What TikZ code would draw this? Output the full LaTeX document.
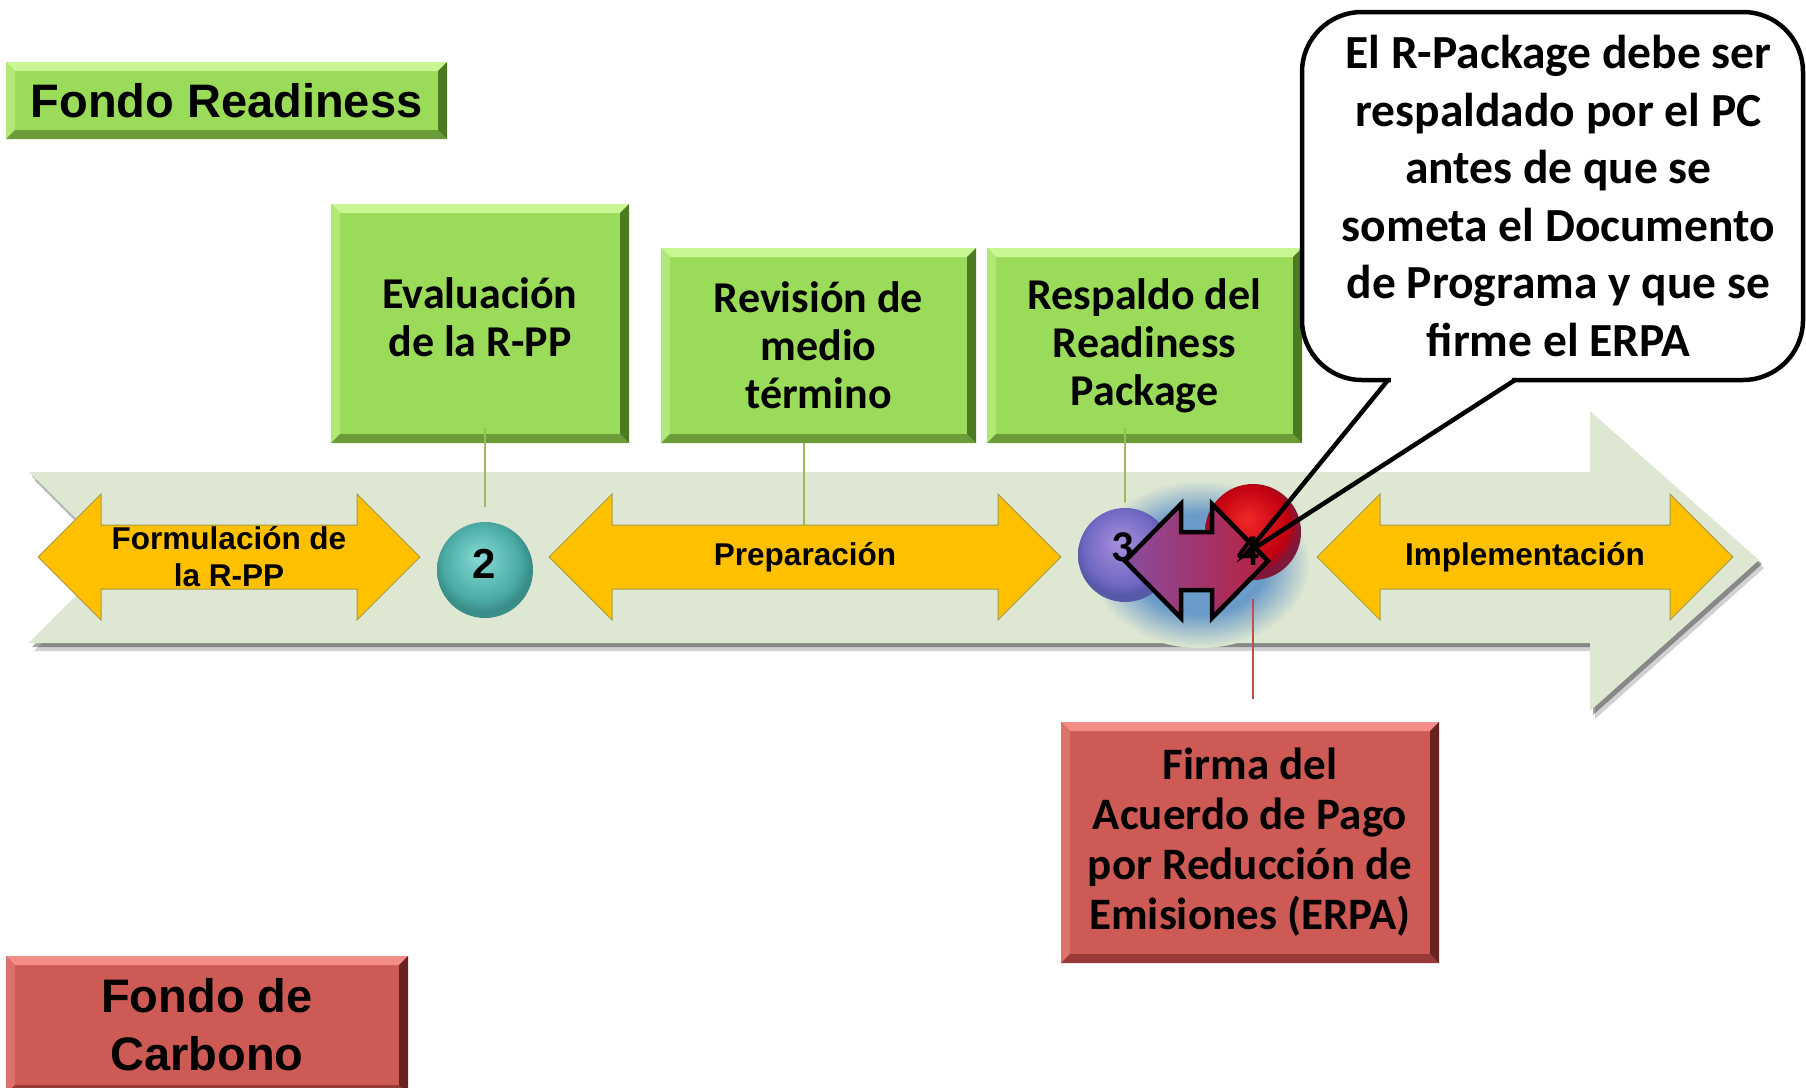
\documentclass[tikz,border=0pt]{standalone}
\usepackage{fontspec}
\usetikzlibrary{calc}
\newfontfamily\arialf{Liberation Sans}
\newfontfamily\calf{Carlito}
\definecolor{gfill}{HTML}{9BDB5A}
\definecolor{gtop}{HTML}{C9F592}
\definecolor{gleft}{HTML}{B2E878}
\definecolor{gbot}{HTML}{6C9C3A}
\definecolor{gright}{HTML}{4C7A22}
\definecolor{rfill}{HTML}{CD5A55}
\definecolor{rtop}{HTML}{F48C88}
\definecolor{rleft}{HTML}{DD716C}
\definecolor{rbot}{HTML}{9A3A36}
\definecolor{rright}{HTML}{6A2220}
\definecolor{tlc}{HTML}{DEE7D2}
\definecolor{yel}{HTML}{FFC000}
\definecolor{yedge}{HTML}{A89A48}
\definecolor{glowc}{HTML}{6B9BC8}
\definecolor{tealA}{HTML}{86DCD5}
\definecolor{tealB}{HTML}{4AAAA4}
\definecolor{tealC}{HTML}{3A8E89}
\definecolor{purA}{HTML}{A88EDC}
\definecolor{purB}{HTML}{7068C2}
\definecolor{purC}{HTML}{5658A8}
\definecolor{redA}{HTML}{F02828}
\definecolor{redB}{HTML}{C00010}
\definecolor{redC}{HTML}{80183A}
\definecolor{glnc}{HTML}{9BBB59}
\definecolor{rlnc}{HTML}{C0504D}
\definecolor{arrL}{HTML}{8A4C9E}
\definecolor{arrR}{HTML}{B82040}
\pgfdeclareradialshading{btnteal}{\pgfpoint{-3bp}{7bp}}{color(0bp)=(tealA); color(20bp)=(tealB); color(25bp)=(tealC); color(50bp)=(tealC)}
\pgfdeclareradialshading{btnpur}{\pgfpoint{-3bp}{7bp}}{color(0bp)=(purA); color(20bp)=(purB); color(25bp)=(purC); color(50bp)=(purC)}
\pgfdeclareradialshading{btnred}{\pgfpoint{-3bp}{7bp}}{color(0bp)=(redA); color(20bp)=(redB); color(25bp)=(redC); color(50bp)=(redC)}
\pgfdeclareradialshading{glowsh}{\pgfpointorigin}{color(0bp)=(glowc); color(15bp)=(glowc); color(25bp)=(tlc); color(50bp)=(tlc)}
\newcommand\bevel[5]{%
  \fill[#2] (#1.north west) -- (#1.north east) -- ($(#1.north east)+(-9,9)$) -- ($(#1.north west)+(9,9)$) -- cycle;
  \fill[#3] (#1.north west) -- (#1.south west) -- ($(#1.south west)+(9,-9)$) -- ($(#1.north west)+(9,9)$) -- cycle;
  \fill[#4] (#1.south west) -- (#1.south east) -- ($(#1.south east)+(-9,-9)$) -- ($(#1.south west)+(9,-9)$) -- cycle;
  \fill[#5] (#1.north east) -- (#1.south east) -- ($(#1.south east)+(-9,-9)$) -- ($(#1.north east)+(-9,9)$) -- cycle;
}
\newcommand\yarrow[5]{%
  \path[yarr] (#2,#4) -- (#2+63,#4-63) -- (#2+63,#4-32) -- (#3-63,#4-32) -- (#3-63,#4-63) -- (#3,#4)
    -- (#3-63,#4+63) -- (#3-63,#4+32) -- (#2+63,#4+32) -- (#2+63,#4+63) -- cycle;
  \node[ylab] (#1) at ({(#2+#3)/2},#4) {#5};
}
\begin{document}
\begin{tikzpicture}[x=1pt,y=-1pt,
  gbox/.style={fill=gfill, inner sep=0pt, outer sep=0pt, align=center, font=\calf\bfseries\fontsize{44}{48}\selectfont},
  rbox/.style={fill=rfill, inner sep=0pt, outer sep=0pt, align=center, font=\calf\bfseries\fontsize{45}{50}\selectfont},
  ylab/.style={font=\arialf\bfseries\fontsize{31.5}{37}\selectfont, align=center, inner sep=0pt},
  yarr/.style={fill=yel, draw=yedge, line width=1pt},
  numa/.style={font=\arialf\bfseries\fontsize{42}{42}\selectfont, inner sep=0pt},
  numc/.style={font=\calf\bfseries\fontsize{44}{44}\selectfont, inner sep=0pt},
  gline/.style={draw=glnc, line width=1.8pt},
  rline/.style={draw=rlnc, line width=1.8pt}]
\useasboundingbox (0,0) rectangle (1806,1087);
\clip (0,0) rectangle (1806,1087);
\fill[white] (0,0) rectangle (1806,1087);

% boxes
\node[gbox, minimum width=441pt, minimum height=77pt, font=\arialf\bfseries\fontsize{47}{56}\selectfont] (fr) at (226.5,100.5) {Fondo Readiness};
\bevel{fr}{gtop}{gleft}{gbot}{gright}
\node[gbox, minimum width=298pt, minimum height=239pt] (ev) at (480,323.5) {};
\bevel{ev}{gtop}{gleft}{gbot}{gright}
\node[gbox, fill=none] (evt) at ($(ev.center)+(0,-6)$) {Evaluación\\de la R-PP};
\node[gbox, minimum width=315pt, minimum height=195pt] (rv) at (818.5,345.5) {Revisión de\\medio\\término};
\bevel{rv}{gtop}{gleft}{gbot}{gright}
\node[gbox, minimum width=315pt, minimum height=195pt] (rs) at (1144.5,345.5) {Respaldo del\\Readiness\\Package};
\bevel{rs}{gtop}{gleft}{gbot}{gright}
\node[rbox, minimum width=378pt, minimum height=241pt] (fi) at (1250,842.5) {Firma del\\Acuerdo de Pago\\por Reducción de\\Emisiones (ERPA)};
\bevel{fi}{rtop}{rleft}{rbot}{rright}
\node[rbox, minimum width=402pt, minimum height=138pt, font=\arialf\bfseries\fontsize{47}{58}\selectfont] (fc) at (207,1025) {Fondo de\\Carbono};
\bevel{fc}{rtop}{rleft}{rbot}{rright}

% timeline arrow
\begin{scope}[shift={(5,8)}]
\fill[black, opacity=0.18] (29,472) -- (1590,472) -- (1590,411) -- (1759,560) -- (1590,711) -- (1590,643) -- (29,643) -- (114,557) -- cycle;
\end{scope}
\begin{scope}[shift={(3,4)}]
\fill[black, opacity=0.35] (29,472) -- (1590,472) -- (1590,411) -- (1759,560) -- (1590,711) -- (1590,643) -- (29,643) -- (114,557) -- cycle;
\end{scope}
\fill[tlc] (29,472) -- (1590,472) -- (1590,411) -- (1759,560) -- (1590,711) -- (1590,643) -- (29,643) -- (114,557) -- cycle;

% connectors
\coordinate (l2a) at (485,428); \coordinate (l2b) at (485,507);
\coordinate (lpa) at (804,443); \coordinate (lpb) at (804,525);
\coordinate (l3a) at (1125,428); \coordinate (l3b) at (1125,508);
\coordinate (l4a) at (1253,599); \coordinate (l4b) at (1253,699);
\draw[gline] (l2a) -- (l2b);
\draw[gline] (lpa) -- (lpb);
\draw[gline] (l3a) -- (l3b);

% yellow phase arrows
\yarrow{fo}{38}{420}{557}{Formulación de\\la R-PP}
\yarrow{pr}{549}{1061}{557}{Preparación}
\yarrow{im}{1317}{1733}{557}{Implementación}

% glow and milestones
\shade[shading=glowsh] (1200,564) ellipse (110 and 84);
\draw[rline] (l4a) -- (l4b);
\node[circle, minimum size=96pt, inner sep=0pt, shading=btnteal] (c2) at (485,570) {};
\node[numa] (n2) at (484,564) {2};
\node[circle, minimum size=94pt, inner sep=0pt, shading=btnpur] (c3) at (1125,555) {};
\node[numc] (n3) at (1123,547) {3};
\node[circle, minimum size=96pt, inner sep=0pt, shading=btnred] (c4) at (1253,532) {};

% double arrow
\shadedraw[left color=arrL, right color=arrR, line width=4.5pt, line join=miter]
  (1125,561) -- (1181,504) -- (1181,532) -- (1212,532) -- (1212,504) -- (1268,561)
  -- (1212,618) -- (1212,590) -- (1181,590) -- (1181,618) -- cycle;
\node[numc] (n4) at (1249,551) {4};

% callout
\node[draw, line width=4.5pt, rounded corners=60pt, fill=white, minimum width=501pt, minimum height=368pt,
  inner sep=0pt] (bub) at (1552.5,196) {};
\node[align=center, inner sep=0pt, font=\calf\bfseries\fontsize{47.5}{57.6}\selectfont] (bubt) at ($(bub.center)+(6,0)$)
  {El R-Package debe ser\\respaldado por el PC\\antes de que se\\someta el Documento\\de Programa y que se\\firme el ERPA};
\coordinate (tl) at (1388,380); \coordinate (tr) at (1515,380); \coordinate (tip) at (1247,553);
\draw[white, line width=7pt] ($(tl)+(3,0)$) -- ($(tr)+(-3,0)$);
\draw[line width=4.5pt, line join=miter, line cap=round] (tl) -- (tip) -- (tr);
\end{tikzpicture}
\end{document}
